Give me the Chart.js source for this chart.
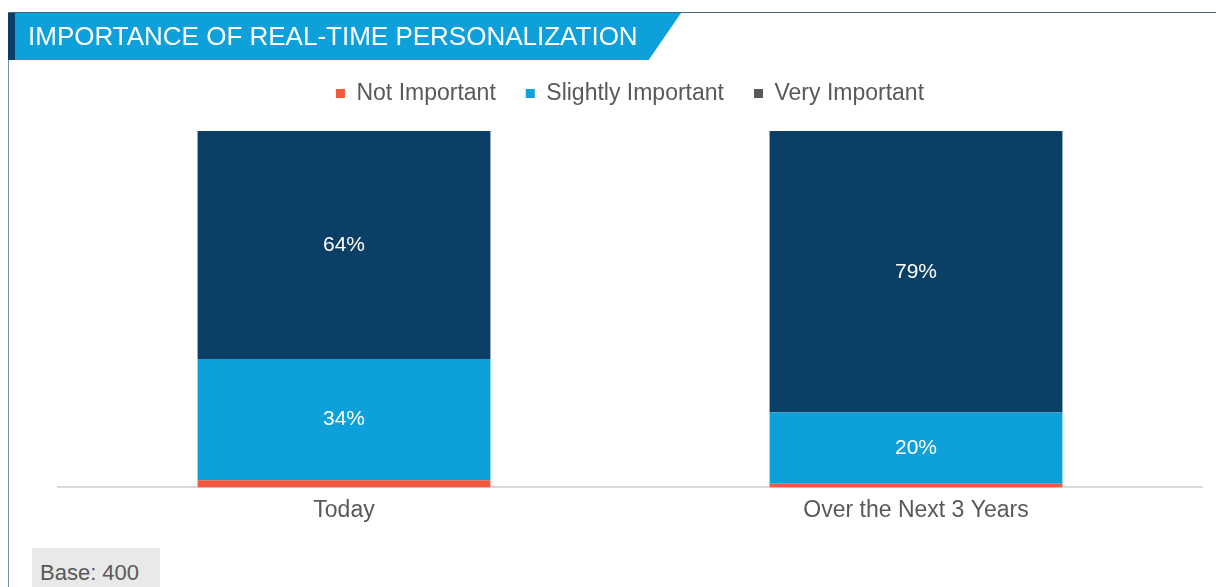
<!DOCTYPE html>
<html>
<head>
<meta charset="utf-8">
<script src="https://cdn.jsdelivr.net/npm/chart.js@4.4.1/dist/chart.umd.min.js"></script>
<style>
  html, body { margin: 0; padding: 0; background: #fff; }
  body { width: 1216px; height: 587px; position: relative; overflow: hidden; font-family: "Liberation Sans", Arial, sans-serif; }
  #frame { position: absolute; left: 8px; top: 12px; right: 0; bottom: -2px; border-top: 1px solid #3d6989; border-left: 1px solid #6f90ab; }
  #banner { position: absolute; left: 8px; top: 13px; width: 673px; height: 47px; background: #0ea0db;
            clip-path: polygon(0 0, 100% 0, 95.2% 100%, 0 100%); }
  #strip { position: absolute; left: 8px; top: 13px; width: 7px; height: 47px; background: #0b3f66; }
  #title { position: absolute; left: 28px; top: 21px; color: #fff; font-size: 26px; white-space: nowrap; }
  #base { position: absolute; left: 32px; top: 548px; width: 128px; height: 40px; background: #e8e9e8;
          color: #595959; font-size: 22px; line-height: 50px; padding-left: 8px; box-sizing: border-box; }
  #wrap { position: absolute; left: 0; top: 0; width: 1216px; height: 587px; }
</style>
</head>
<body>
<div id="frame"></div>
<div id="wrap"><canvas id="chart"></canvas></div>
<div id="banner"></div>
<div id="strip"></div>
<div id="title">IMPORTANCE OF REAL-TIME PERSONALIZATION</div>
<div id="base">Base: 400</div>
<script>
const categories = ["Today", "Over the Next 3 Years"];
const notImportant = [2, 1];
const slightlyImportant = [34, 20];
const veryImportant = [64, 79];

// the original legend shows a grey swatch for "Very Important"
const legendSwatch = ["#f15a3c", "#0ea0db", "#595959"];

const barLabels = {
    id: "barLabels",
    afterDatasetsDraw(chart) {
        const ctx = chart.ctx;
        ctx.save();
        ctx.font = "21px 'Liberation Sans', Arial, sans-serif";
        ctx.fillStyle = "#ffffff";
        ctx.textAlign = "center";
        ctx.textBaseline = "middle";
        chart.data.datasets.forEach((ds, i) => {
            if (i === 0) return; // no labels on the thin red segment
            chart.getDatasetMeta(i).data.forEach((bar, j) => {
                const p = bar.getProps(["x", "y", "base"], true);
                ctx.fillText(ds.data[j] + "%", p.x, (p.y + p.base) / 2);
            });
        });
        ctx.restore();
    }
};

// extra room between legend and bars
const legendGap = {
    id: "legendGap",
    beforeInit(chart) {
        const fit = chart.legend.fit;
        chart.legend.fit = function () {
            fit.bind(chart.legend)();
            this.height += 16;
        };
    }
};

const ctx = document.getElementById("chart").getContext("2d");

new Chart(ctx, {
    type: "bar",
    data: {
        labels: categories,
        datasets: [
            { label: "Not Important", data: notImportant, backgroundColor: "#f15a3c" },
            { label: "Slightly Important", data: slightlyImportant, backgroundColor: "#0ea0db" },
            { label: "Very Important", data: veryImportant, backgroundColor: "#0b3f66" }
        ]
    },
    options: {
        responsive: true,
        maintainAspectRatio: false,
        animation: false,
        datasets: { bar: { barPercentage: 0.512, categoryPercentage: 1 } },
        layout: { padding: { left: 58, right: 14, top: 52, bottom: 62 } },
        plugins: {
            tooltip: { enabled: false },
            legend: {
                position: "top",
                labels: {
                    color: "#595959",
                    font: { size: 23, family: "'Liberation Sans', Arial, sans-serif" },
                    boxWidth: 9,
                    boxHeight: 9,
                    padding: 30,
                    generateLabels(chart) {
                        return chart.data.datasets.map((ds, i) => ({
                            text: ds.label,
                            fillStyle: legendSwatch[i],
                            strokeStyle: legendSwatch[i],
                            lineWidth: 0,
                            fontColor: "#595959",
                            datasetIndex: i
                        }));
                    }
                }
            }
        },
        scales: {
            x: {
                stacked: true,
                grid: { display: false },
                border: { display: true, color: "#d9d9d9", width: 2 },
                ticks: { color: "#595959", padding: 1, font: { size: 23, family: "'Liberation Sans', Arial, sans-serif" } }
            },
            y: { stacked: true, display: false, min: 0, max: 100 }
        }
    },
    plugins: [barLabels, legendGap]
});
</script>
</body>
</html>
